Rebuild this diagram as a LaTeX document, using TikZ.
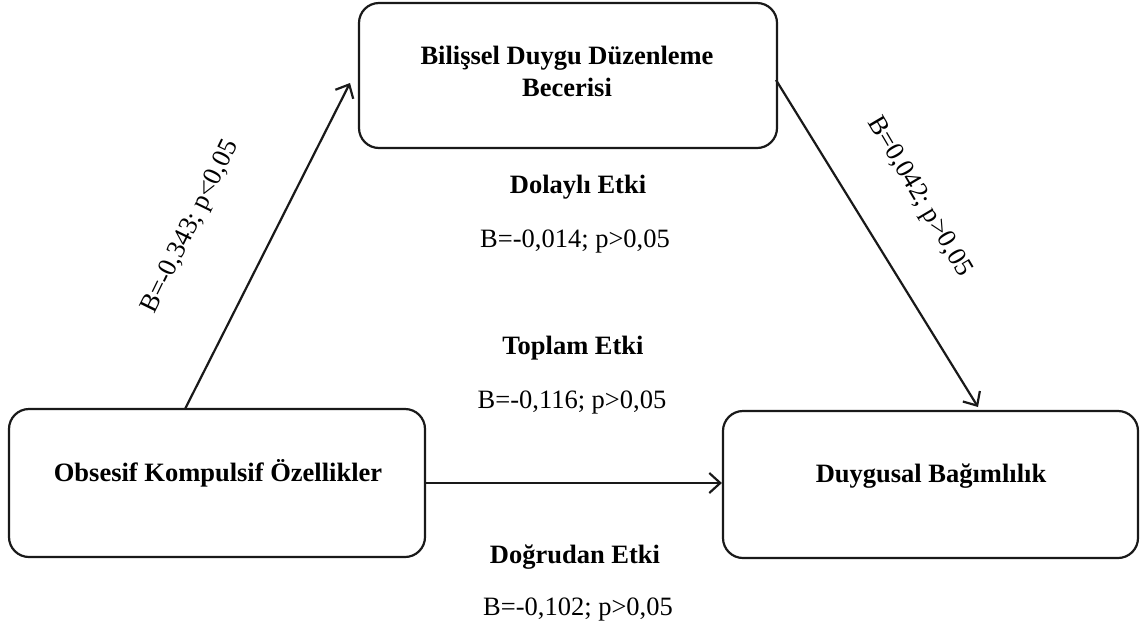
\documentclass[tikz,border=0pt]{standalone}
\usepackage{fontspec}
\setmainfont{Liberation Serif}
\usetikzlibrary{arrows.meta}
\begin{document}
\begin{tikzpicture}[x=0.5pt,y=-0.5pt,
  box/.style={draw=black!90, line width=1.1pt, rounded corners=10pt, inner sep=0pt},
  boxtext/.style={font=\fontsize{13.25}{16}\selectfont\bfseries, align=center, inner sep=0pt},
  hd/.style={font=\fontsize{13.25}{16}\selectfont\bfseries, inner sep=0pt, anchor=base},
  lbl/.style={font=\fontsize{13.25}{16}\selectfont, inner sep=0pt},
  arr/.style={line width=1.1pt, draw=black!90, -{Straight Barb[length=5.5pt,width=10pt,line width=1.1pt]}}]
\useasboundingbox (0,0) rectangle (1145,633);

% boxes
\node[box, minimum width=209pt, minimum height=72.5pt] (med) at (568,75.5) {};
\node[box, minimum width=208pt, minimum height=74pt] (obs) at (217,483) {};
\node[box, minimum width=207.5pt, minimum height=73.5pt] (dep) at (930.5,484.5) {};

% box texts
\node[boxtext] (medt) at (567,71) {Bilişsel Duygu Düzenleme\\Becerisi};
\node[boxtext, anchor=base] (obst) at (218,481) {Obsesif Kompulsif Özellikler};
\node[boxtext, anchor=base] (dept) at (931,482) {Duygusal Bağımlılık};

% connectors
\coordinate (s1) at (185,409);
\coordinate (e1) at (350,83);
\coordinate (s2) at (776,80);
\coordinate (e2) at (978,407);
\draw[arr] (s1) -- (e1);
\draw[arr] (s2) -- (e2);
\draw[arr] (obs.east) -- (obs.east -| dep.west);

% path labels
\node[lbl, rotate=64] (l1) at (191,227) {B=-0,343; p<0,05};
\node[lbl, rotate=-59.5] (l2) at (919,197) {B=0,042; p>0,05};

% effect labels
\node[hd] (ind) at (578,193) {Dolaylı Etki};
\node[lbl, anchor=base] (indv) at (575,247) {B=-0,014; p>0,05};
\node[hd] (tot) at (573,354) {Toplam Etki};
\node[lbl, anchor=base] (totv) at (572,408) {B=-0,116; p>0,05};
\node[hd] (dir) at (575,563) {Doğrudan Etki};
\node[lbl, anchor=base] (dirv) at (578,615) {B=-0,102; p>0,05};
\end{tikzpicture}
\end{document}
